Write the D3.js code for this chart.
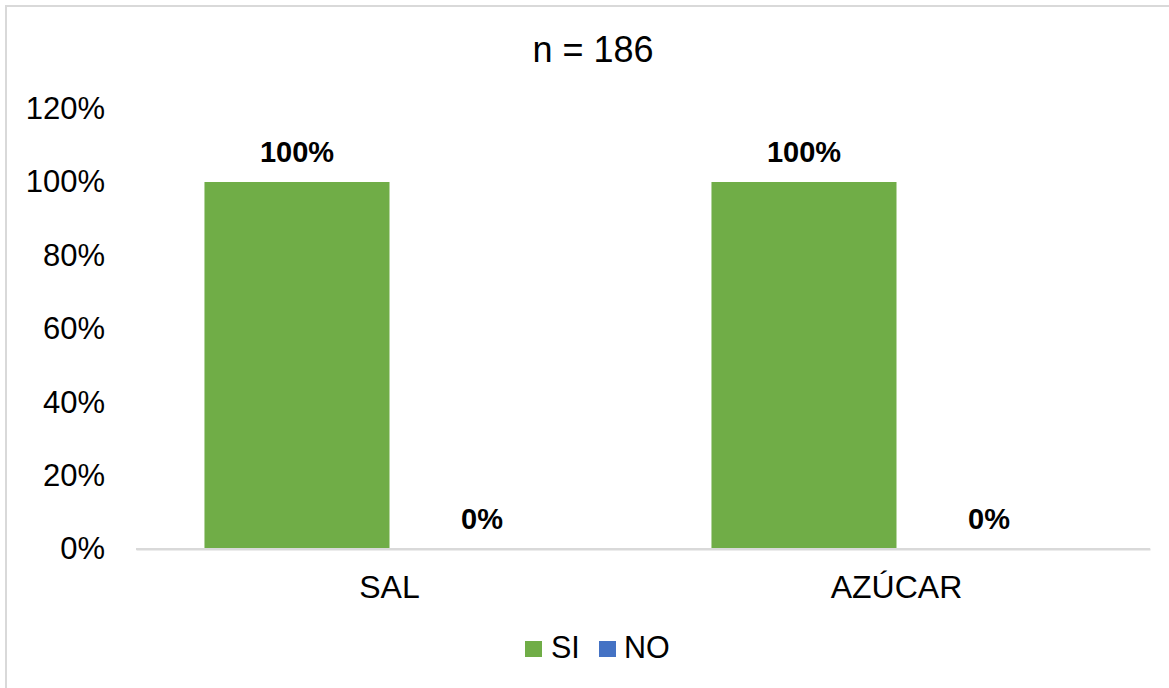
<!DOCTYPE html>
<html>
<head>
<meta charset="utf-8">
<script src="https://cdn.jsdelivr.net/npm/d3@7"></script>
<style>
  html, body { margin: 0; padding: 0; background: #fff; }
  svg { display: block; font-family: "Liberation Sans", Arial, sans-serif; }
</style>
</head>
<body>
<svg id="chart" width="1169" height="688"></svg>
<script>
// Chart data
const categories = ["SAL", "AZÚCAR"];
const seriesNames = ["SI", "NO"];
const siValues = [1.00, 1.00];
const noValues = [0.00, 0.00];
const yTicks = [0, 0.2, 0.4, 0.6, 0.8, 1.0, 1.2];
const seriesColors = ["#70AD47", "#4472C4"];
const titleText = "n = 186";

const svg = d3.select("#chart");

// Outer frame of the chart area
svg.append("rect")
  .attr("x", 6).attr("y", 6)
  .attr("width", 1180).attr("height", 700)
  .attr("fill", "#fff")
  .attr("stroke", "#d9d9d9")
  .attr("stroke-width", 2);

const plot = { left: 136, right: 1150, top: 108.6, bottom: 549 };

const y = d3.scaleLinear().domain([0, 1.2]).range([plot.bottom, plot.top]);
const x0 = d3.scaleBand().domain(categories).range([plot.left, plot.right]).paddingInner(0).paddingOuter(0);
const x1 = d3.scaleBand().domain(seriesNames).range([0, x0.bandwidth()]).paddingInner(0).paddingOuter(0.37);
const color = d3.scaleOrdinal().domain(seriesNames).range(seriesColors);

// Title
svg.append("text")
  .attr("x", 593).attr("y", 61.5)
  .attr("text-anchor", "middle")
  .attr("font-size", 36)
  .attr("fill", "#000")
  .text(titleText);

// Y axis labels (no axis line, no gridlines)
const yAxis = d3.axisLeft(y)
  .tickValues(yTicks)
  .tickFormat(d3.format(".0%"))
  .tickSize(0)
  .tickPadding(0);
const yg = svg.append("g")
  .attr("transform", `translate(105,0)`)
  .call(yAxis);
yg.select(".domain").remove();
yg.selectAll("text")
  .attr("font-size", 31)
  .attr("font-family", "'Liberation Sans', Arial, sans-serif")
  .attr("fill", "#000")
  .attr("dy", "0.32em");

// Category axis
const xAxis = d3.axisBottom(x0).tickSize(0).tickPadding(0);
const xg = svg.append("g")
  .attr("transform", `translate(0,${plot.bottom})`)
  .call(xAxis);
xg.select(".domain")
  .attr("stroke", "#d9d9d9")
  .attr("stroke-width", 2);
xg.selectAll("text")
  .attr("font-size", 32)
  .attr("font-family", "'Liberation Sans', Arial, sans-serif")
  .attr("fill", "#000")
  .attr("dy", null)
  .attr("y", 49);

// Bars
const rows = categories.map((c, i) => ({
  category: c,
  values: [
    { series: "SI", value: siValues[i] },
    { series: "NO", value: noValues[i] }
  ]
}));

const groups = svg.append("g").selectAll("g")
  .data(rows)
  .join("g")
  .attr("transform", d => `translate(${x0(d.category)},0)`);

groups.selectAll("rect")
  .data(d => d.values)
  .join("rect")
  .attr("x", d => x1(d.series))
  .attr("y", d => y(d.value))
  .attr("width", x1.bandwidth())
  .attr("height", d => y(0) - y(d.value))
  .attr("fill", d => color(d.series));

// Redraw baseline above bars
svg.append("line")
  .attr("x1", plot.left).attr("x2", plot.right)
  .attr("y1", plot.bottom).attr("y2", plot.bottom)
  .attr("stroke", "#d9d9d9").attr("stroke-width", 2);

// Value labels
groups.selectAll("text.val")
  .data(d => d.values)
  .join("text")
  .attr("class", "val")
  .attr("x", d => x1(d.series) + x1.bandwidth() / 2)
  .attr("y", d => y(d.value) - 20)
  .attr("text-anchor", "middle")
  .attr("font-size", 29)
  .attr("font-weight", "bold")
  .attr("fill", "#000")
  .text(d => d3.format(".0%")(d.value));

// Legend
const legendItems = [
  { name: "SI", sx: 525, tx: 551 },
  { name: "NO", sx: 599, tx: 624 }
];
const legend = svg.append("g");
legend.selectAll("rect")
  .data(legendItems)
  .join("rect")
  .attr("x", d => d.sx).attr("y", 641)
  .attr("width", 17).attr("height", 16)
  .attr("fill", d => color(d.name));
legend.selectAll("text")
  .data(legendItems)
  .join("text")
  .attr("x", d => d.tx).attr("y", 658)
  .attr("font-size", 30.5)
  .attr("fill", "#000")
  .text(d => d.name);
</script>
</body>
</html>
